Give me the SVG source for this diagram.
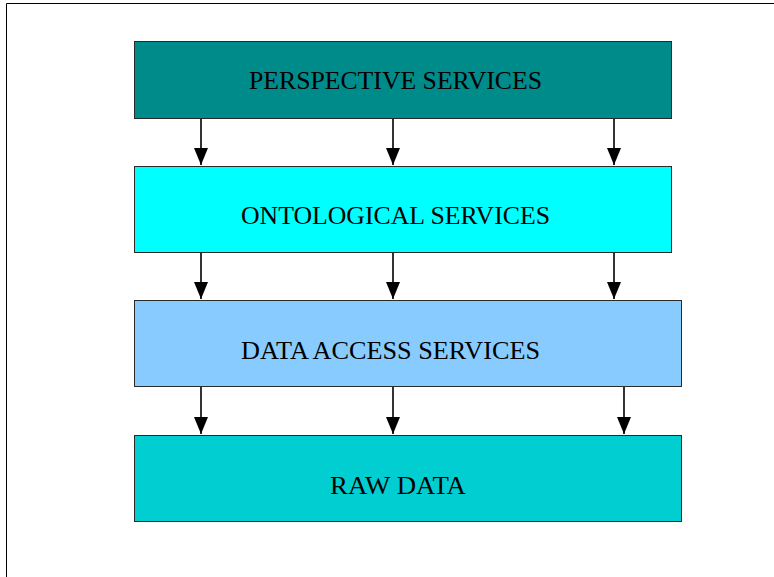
<svg xmlns="http://www.w3.org/2000/svg" width="774" height="577" viewBox="0 0 774 577">
<style>
.box{stroke:#2a2a2a;stroke-width:1}
.lbl{font-family:"Liberation Serif","Times New Roman",serif;font-size:25.5px;fill:#000}
.conn line{stroke:#000;stroke-width:1.6}
</style>
<defs>
<marker id="ah" markerUnits="userSpaceOnUse" markerWidth="17" markerHeight="14" refX="17" refY="7" orient="auto" viewBox="0 0 17 14">
<path d="M0,0 L17,7 L0,14 Z" fill="#000"/>
</marker>
</defs>
<rect x="0" y="0" width="774" height="577" fill="#fff"/>
<path d="M6.5,577 V3.5 H774" fill="none" stroke="#000" stroke-width="1"/>
<g id="perspective">
<rect class="box" x="134.5" y="41.5" width="537" height="77" fill="#008B8B"/>
<text class="lbl" x="249" y="89" textLength="293" lengthAdjust="spacingAndGlyphs">PERSPECTIVE SERVICES</text>
</g>
<g id="ontological">
<rect class="box" x="134.5" y="166.5" width="537" height="86" fill="#00FFFF"/>
<text class="lbl" x="241" y="224" textLength="309" lengthAdjust="spacingAndGlyphs">ONTOLOGICAL SERVICES</text>
</g>
<g id="dataaccess">
<rect class="box" x="134.5" y="300.5" width="547" height="86" fill="#88CCFF"/>
<text class="lbl" x="241" y="359" textLength="299" lengthAdjust="spacingAndGlyphs">DATA ACCESS SERVICES</text>
</g>
<g id="rawdata">
<rect class="box" x="134.5" y="435.5" width="547" height="86" fill="#00CED1"/>
<text class="lbl" x="330" y="494" textLength="136" lengthAdjust="spacingAndGlyphs">RAW DATA</text>
</g>
<g class="conn">
<line x1="201" y1="119" x2="201" y2="165" marker-end="url(#ah)"/>
<line x1="393" y1="119" x2="393" y2="165" marker-end="url(#ah)"/>
<line x1="614" y1="119" x2="614" y2="165" marker-end="url(#ah)"/>
<line x1="201" y1="253" x2="201" y2="299" marker-end="url(#ah)"/>
<line x1="393" y1="253" x2="393" y2="299" marker-end="url(#ah)"/>
<line x1="614" y1="253" x2="614" y2="299" marker-end="url(#ah)"/>
<line x1="201" y1="387" x2="201" y2="434" marker-end="url(#ah)"/>
<line x1="393" y1="387" x2="393" y2="434" marker-end="url(#ah)"/>
<line x1="624" y1="387" x2="624" y2="434" marker-end="url(#ah)"/>
</g>
</svg>
